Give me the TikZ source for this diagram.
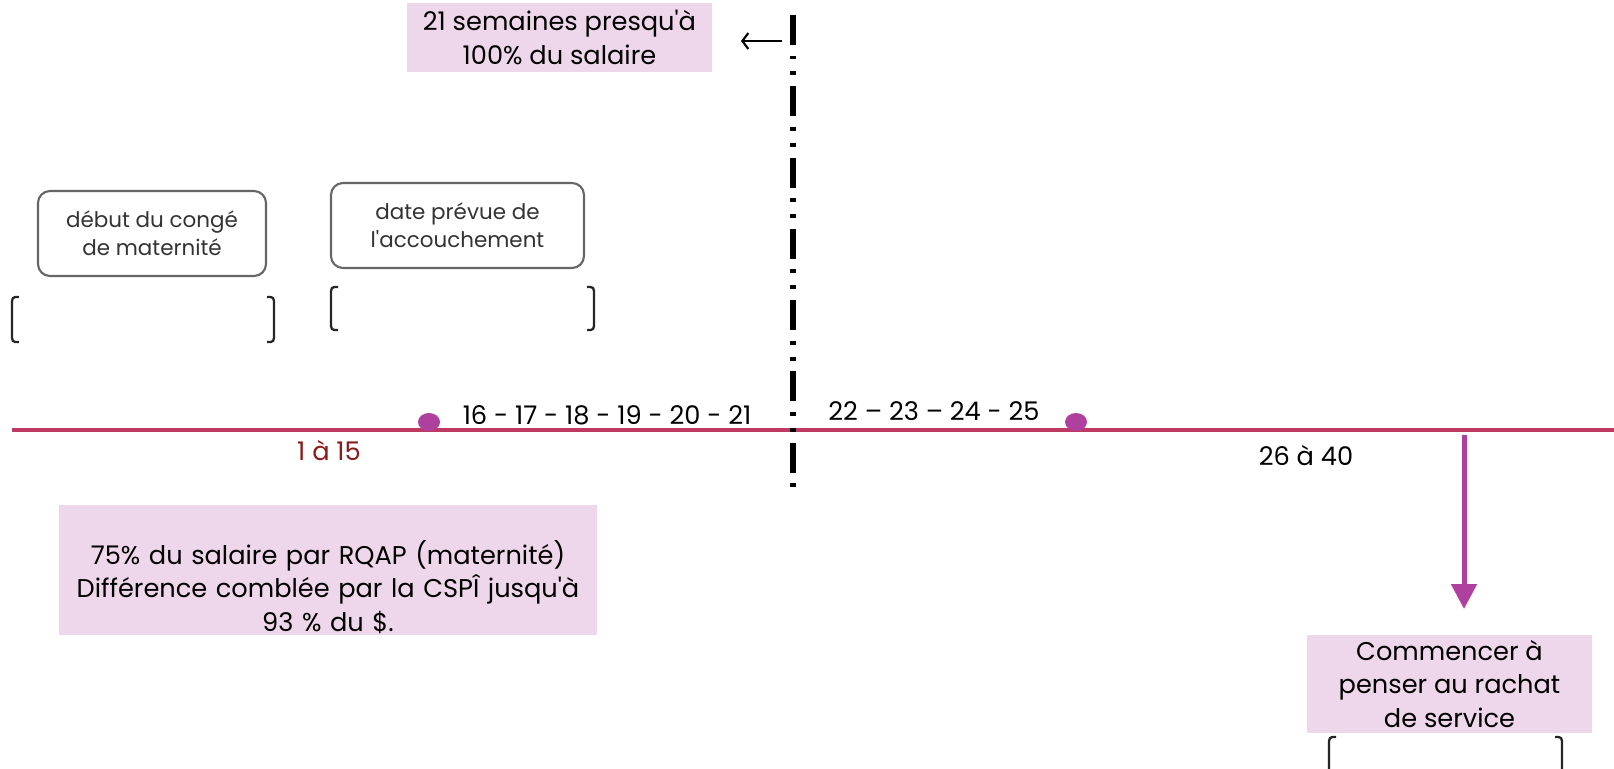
\documentclass[tikz,border=0pt]{standalone}
\usepackage{fontspec}
\setmainfont{Poppins}[Ligatures=TeXOff]
\usetikzlibrary{arrows.meta,shapes.geometric}
\definecolor{lilac}{RGB}{239,215,235}
\definecolor{tline}{RGB}{190,58,100}
\definecolor{plum}{RGB}{176,64,158}
\definecolor{brick}{RGB}{139,26,26}
\tikzset{
  pinkbox/.style={fill=lilac, align=center, inner sep=0pt, font=\fontsize{7.3}{9.5}\selectfont},
  roundbox/.style={draw=black!60, rounded corners=0.12cm, line width=0.6pt, align=center, text=black!80, inner sep=0pt, font=\fontsize{6.1}{7.9}\selectfont},
  weeks/.style={inner sep=0pt, font=\fontsize{7.3}{9}\selectfont},
  dotmark/.style={ellipse, fill=plum, minimum width=0.22cm, minimum height=0.18cm, inner sep=0pt},
  bracket/.style={line width=0.65pt, black!85},
  cutline/.style={line width=1.7pt, dash pattern=on 0.30cm off 0.105cm on 0.04cm off 0.12cm on 0.04cm off 0.108cm}
}
\begin{document}
\begin{tikzpicture}
\useasboundingbox (0,0) rectangle (16.14,-7.68);
\fill[white] (0,0) rectangle (16.14,-7.68);

\node[pinkbox, minimum width=3.05cm, minimum height=0.69cm] (salaire) at (5.595,-0.375) {21 semaines presqu'à\\100\% du salaire};
\node[roundbox, minimum width=2.28cm, minimum height=0.85cm] (debut) at (1.52,-2.335) {début du congé\\de maternité};
\node[roundbox, minimum width=2.53cm, minimum height=0.85cm] (accouch) at (4.575,-2.255) {date prévue de\\l'accouchement};
\node[pinkbox, text width=5.38cm, minimum height=1.30cm] (rqap) at (3.28,-5.70) {\rule{0pt}{0.58cm}75\% du salaire par RQAP (maternité)\\Différence comblée par la CSPÎ jusqu'à\\93 \% du \$.};
\node[pinkbox, minimum width=2.85cm, minimum height=0.98cm] (rachat) at (14.495,-6.84) {Commencer à\\penser au rachat\\de service};

\foreach \x/\xx/\yt/\yb in {0.12/2.74/-2.97/-3.42, 3.31/5.94/-2.87/-3.30, 13.29/15.62/-7.37/-7.80}
{
    \draw[bracket] (\x+0.07,\yt) .. controls (\x,\yt) .. (\x,\yt-0.09) -- (\x,\yb+0.09) .. controls (\x,\yb) .. (\x+0.07,\yb);
    \draw[bracket] (\xx-0.07,\yt) .. controls (\xx,\yt) .. (\xx,\yt-0.09) -- (\xx,\yb+0.09) .. controls (\xx,\yb) .. (\xx-0.07,\yb);
}

\coordinate (tstart) at (0.12,-4.30);
\coordinate (tend) at (16.14,-4.30);
\draw[tline, line width=0.95pt] (tstart) -- (tend);

\coordinate (vtop) at (7.93,-0.15);
\coordinate (vbot) at (7.93,-4.89);
\draw[cutline] (vtop) -- (vbot);

\coordinate (backtail) at (7.82,-0.41);
\coordinate (backhead) at (7.41,-0.41);
\draw[line width=0.6pt, -{Straight Barb[length=0.06cm,width=0.16cm]}] (backtail) -- (backhead);

\node[dotmark] (dotA) at (4.29,-4.22) {};
\node[dotmark] (dotB) at (10.76,-4.22) {};

\node[weeks] (w16) at (6.07,-4.15) {16 - 17 - 18 - 19 - 20 - 21};
\node[weeks] (w22) at (9.34,-4.11) {22 – 23 – 24 - 25};
\node[weeks, text=brick] (w1) at (3.29,-4.51) {1 à 15};
\node[weeks] (w26) at (13.06,-4.56) {26 à 40};

\coordinate (drop) at (14.64,-4.35);
\coordinate (droptip) at (14.64,-6.09);
\draw[plum, line width=0.05cm, -{Triangle[width=0.25cm,length=0.25cm]}] (drop) -- (droptip);
\end{tikzpicture}
\end{document}
